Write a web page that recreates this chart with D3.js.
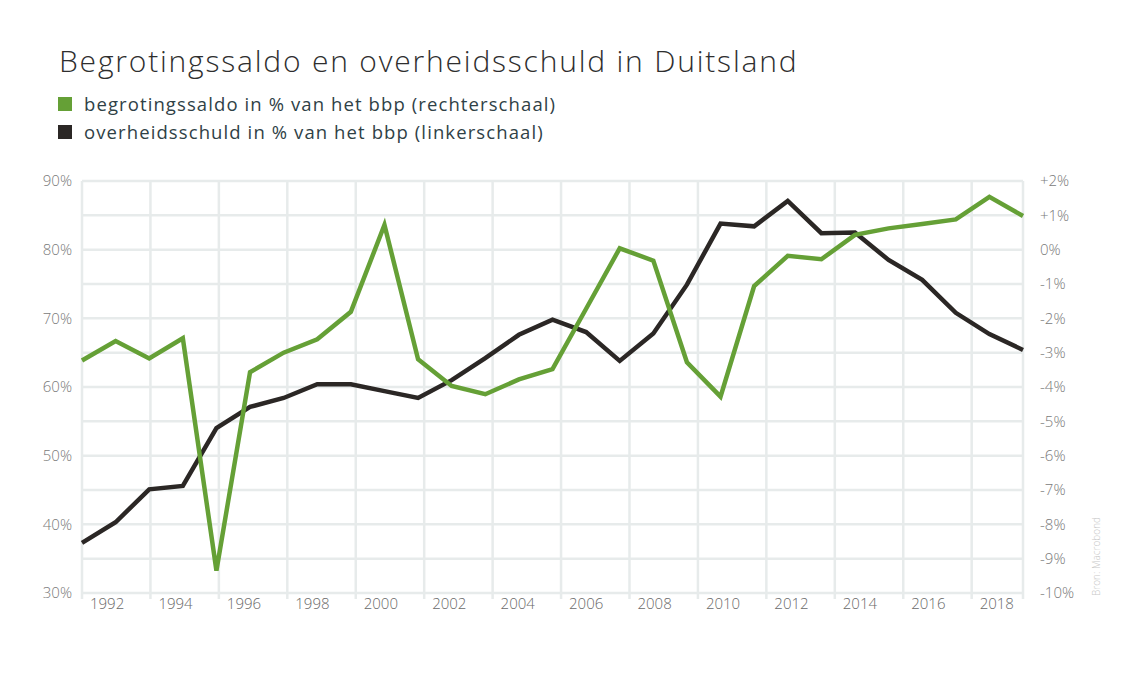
<!DOCTYPE html>
<html>
<head>
<meta charset="utf-8">
<script src="https://cdn.jsdelivr.net/npm/d3@7"></script>
<style>
    body { margin: 0; background: #fff; }
    svg { display: block; font-family: "Open Sans", "Lato", sans-serif; }
</style>
</head>
<body>
<svg id="chart" width="1130" height="678"></svg>
<script>
// jaren en reeksen
const years = d3.range(1991, 2020);
const schuld = [37.3, 40.3, 45.1, 45.6, 54.0, 57.1, 58.4, 60.4, 60.4, 59.4, 58.4, 61.0, 64.2, 67.6, 69.8,
                68.0, 63.8, 67.8, 74.9, 83.8, 83.4, 87.1, 82.4, 82.5, 78.5, 75.6, 70.8, 67.7, 65.4];
const saldo = [-3.23, -2.66, -3.17, -2.58, -9.35, -3.57, -3.0, -2.61, -1.81, 0.72, -3.19, -3.97, -4.21, -3.78, -3.48,
               -1.72, 0.04, -0.32, -3.28, -4.28, -1.06, -0.18, -0.28, 0.43, 0.62, 0.75, 0.88, 1.54, 0.98];
const leftTicks = [30, 40, 50, 60, 70, 80, 90];
const rightTicks = d3.range(-10, 3);
const yearTicks = d3.range(1992, 2019, 2);

const title = "Begrotingssaldo en overheidsschuld in Duitsland";
const legendItems = [
    {label: "begrotingssaldo in % van het bbp (rechterschaal)", color: "#65a036"},
    {label: "overheidsschuld in % van het bbp (linkerschaal)", color: "#2b2725"}
];

const svg = d3.select("svg#chart");

const area = {left: 82, right: 1023, top: 181, bottom: 593};

// schalen
const scYL = d3.scaleLinear().domain([30, 90]).range([area.bottom, area.top]);
const scYR = d3.scaleLinear().domain([-10, 2]).range([area.bottom, area.top]);
// tijdas (rasterlijnen en labels)
const scAxis = d3.scaleLinear().domain([1992, 2019.5]).range([area.left, area.right]);
// datapunten
const scX = d3.scaleLinear().domain([1991, 2019]).range([area.left, area.right]);

const gridColor = "#e7ebeb";
const tickColor = "#7a7a7a";

// horizontaal raster
svg.append("g")
    .selectAll("line")
    .data(rightTicks)
    .enter()
    .append("line")
    .attr("x1", area.left)
    .attr("x2", area.right)
    .attr("y1", d => scYR(d))
    .attr("y2", d => scYR(d))
    .style("stroke", gridColor)
    .style("stroke-width", 2.5);

// verticaal raster
svg.append("g")
    .selectAll("line")
    .data(yearTicks.concat([2019.5]))
    .enter()
    .append("line")
    .attr("x1", d => scAxis(d))
    .attr("x2", d => scAxis(d))
    .attr("y1", area.top)
    .attr("y2", area.bottom + 6)
    .style("stroke", gridColor)
    .style("stroke-width", 2.5);

// linker as
svg.append("g")
    .selectAll("text")
    .data(leftTicks)
    .enter()
    .append("text")
    .attr("x", 72)
    .attr("y", d => scYL(d))
    .attr("dy", "0.35em")
    .attr("text-anchor", "end")
    .style("font-size", "15px")
    .style("font-weight", 300)
    .style("fill", tickColor)
    .text(d => d + "%");

// rechter as
svg.append("g")
    .selectAll("text")
    .data(rightTicks)
    .enter()
    .append("text")
    .attr("x", 1040)
    .attr("y", d => scYR(d))
    .attr("dy", "0.35em")
    .style("font-size", "15px")
    .style("font-weight", 300)
    .style("fill", tickColor)
    .text(d => (d > 0 ? "+" : "") + d + "%");

// x-as labels
svg.append("g")
    .selectAll("text")
    .data(yearTicks)
    .enter()
    .append("text")
    .attr("x", d => scAxis(d) + 8)
    .attr("y", 609)
    .style("font-size", "15px")
    .style("font-weight", 300)
    .style("fill", "#6a6a6a")
    .text(d => d);

// lijnen
const lineL = d3.line()
    .x((d, i) => scX(years[i]))
    .y(d => scYL(d));
const lineR = d3.line()
    .x((d, i) => scX(years[i]))
    .y(d => scYR(d));

svg.append("path")
    .datum(schuld)
    .attr("d", lineL)
    .style("fill", "none")
    .style("stroke", legendItems[1].color)
    .style("stroke-width", 4.5);

svg.append("path")
    .datum(saldo)
    .attr("d", lineR)
    .style("fill", "none")
    .style("stroke", legendItems[0].color)
    .style("stroke-width", 4.5);

// titel
svg.append("text")
    .attr("x", 59)
    .attr("y", 72)
    .style("font-size", "30px")
    .style("font-weight", 300)
    .style("letter-spacing", "1.8px")
    .style("fill", "#2e2e2e")
    .text(title);

// legenda
const legend = svg.append("g")
    .selectAll("g")
    .data(legendItems)
    .enter()
    .append("g")
    .attr("transform", (d, i) => `translate(58, ${97 + i * 28})`);

legend.append("rect")
    .attr("width", 14)
    .attr("height", 14)
    .style("fill", d => d.color);

legend.append("text")
    .attr("x", 26)
    .attr("y", 14)
    .style("font-size", "18.5px")
    .style("fill", "#2f4146")
    .style("letter-spacing", "1.1px")
    .text(d => d.label);

// bron
svg.append("text")
    .attr("transform", "translate(1100, 596) rotate(-90)")
    .style("font-size", "10px")
    .style("font-weight", 300)
    .style("fill", "#c8c8c8")
    .text("Bron: Macrobond");
</script>
</body>
</html>
